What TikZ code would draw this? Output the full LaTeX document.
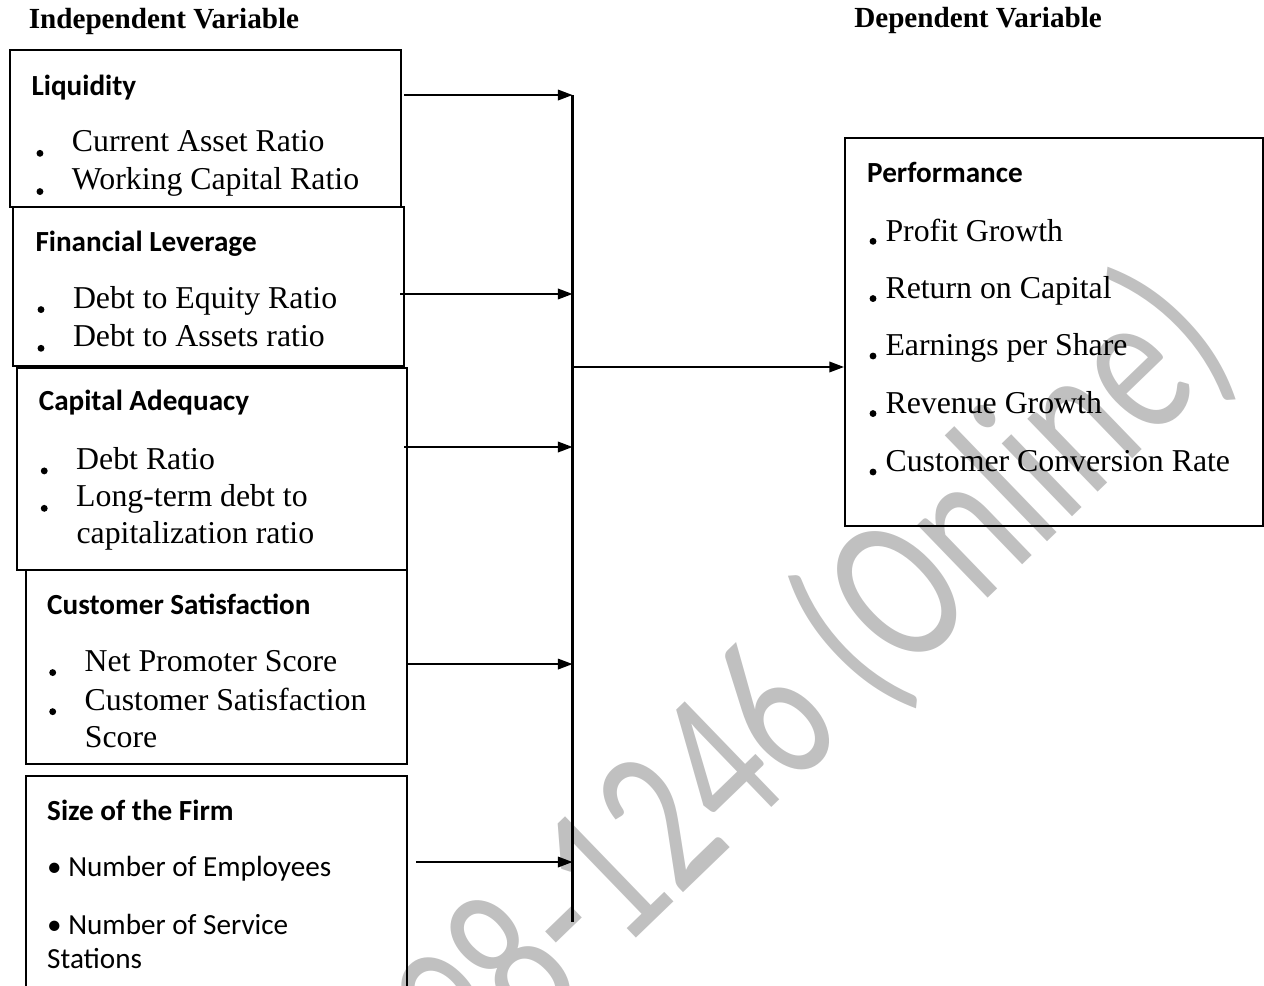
\documentclass[tikz,border=0pt]{standalone}
\usepackage{fontspec}
\setmainfont{Liberation Serif}
\newfontfamily\calibri{Carlito}
\usepackage{xcolor}
\usepackage{tikz}
\usetikzlibrary{arrows.meta}
\definecolor{WaterGray}{HTML}{C0C0C0}
\newcommand{\itemdot}{\makebox[0.47cm][l]{\tikz[baseline=0pt]\fill (0,-0.6pt) circle (1.3pt);}}
\newcommand{\perfdot}{\makebox[0.212cm][l]{\tikz[baseline=0pt]\fill (0,-0.1pt) circle (1.3pt);}}

\begin{document}
\begin{tikzpicture}[
  box/.style={rectangle, draw=black, line width=0.8pt, inner sep=0pt},
  title/.style={anchor=base west, inner sep=0pt, font=\fontsize{11}{13}\selectfont\bfseries},
  head/.style={anchor=base west, inner sep=0pt, font=\calibri\fontsize{11}{13}\selectfont\bfseries},
  entry/.style={anchor=base west, inner sep=0pt, font=\fontsize{12}{14}\selectfont},
  sansentry/.style={anchor=base west, inner sep=0pt, font=\calibri\fontsize{11}{13}\selectfont},
  arrow/.style={-{Triangle[length=5.5pt,width=4pt]}, line width=0.6pt}
]
\useasboundingbox (0,0) rectangle (16.76,-13.07);

\node[rotate=44, text=WaterGray, font=\calibri\fontsize{80}{80}\selectfont] (mark) at (10.78,-9.02) {\scalebox{0.73}[1]{98-1246 (Online)}};

\node[title] (indep) at (0.375,-0.375) {Independent Variable};
\node[title] (dep) at (11.32,-0.37) {Dependent Variable};

\node[box, minimum width=5.185cm, minimum height=2.082cm] (liquidity) at (2.725,-1.704) {};
\node[head] (liqhead) at (0.411,-1.260) {Liquidity};
\node[entry] (liq1) at (0.477,-2.012) {\itemdot Current Asset Ratio};
\node[entry] (liq2) at (0.477,-2.519) {\itemdot Working Capital Ratio};

\node[box, minimum width=5.185cm, minimum height=2.108cm] (leverage) at (2.765,-3.799) {};
\node[head] (levhead) at (0.464,-3.338) {Financial Leverage};
\node[entry] (lev1) at (0.491,-4.084) {\itemdot Debt to Equity Ratio};
\node[entry] (lev2) at (0.491,-4.597) {\itemdot Debt to Assets ratio};

\node[box, minimum width=5.171cm, minimum height=2.679cm] (adequacy) at (2.811,-6.219) {};
\node[head] (adqhead) at (0.508,-5.446) {Capital Adequacy};
\node[entry] (adq1) at (0.534,-6.223) {\itemdot Debt Ratio};
\node[entry] (adq2) at (0.534,-6.719) {\itemdot Long-term debt to};
\node[entry] (adq2b) at (1.008,-7.204) {capitalization ratio};

\node[box, minimum width=5.052cm, minimum height=2.572cm] (satisfaction) at (2.871,-8.844) {};
\node[head] (sathead) at (0.619,-8.146) {Customer Satisfaction};
\node[entry] (sat1) at (0.646,-8.897) {\itemdot Net Promoter Score};
\node[entry] (sat2) at (0.646,-9.415) {\itemdot Customer Satisfaction};
\node[entry] (sat2b) at (1.118,-9.909) {Score};

\node[box, minimum width=5.052cm, minimum height=2.970cm] (firmsize) at (2.871,-11.775) {};
\node[head] (sizhead) at (0.619,-10.873) {Size of the Firm};
\node[sansentry] (siz1) at (0.619,-11.616) {\textbullet{} Number of Employees};
\node[sansentry] (siz2) at (0.619,-12.385) {\textbullet{} Number of Service};
\node[sansentry] (siz2b) at (0.619,-12.840) {Stations};

\node[box, minimum width=5.543cm, minimum height=5.145cm] (performance) at (13.976,-4.402) {};
\node[head] (perfhead) at (11.492,-2.417) {Performance};
\node[entry] (perf1) at (11.523,-3.196) {\perfdot Profit Growth};
\node[entry] (perf2) at (11.523,-3.955) {\perfdot Return on Capital};
\node[entry] (perf3) at (11.523,-4.717) {\perfdot Earnings per Share};
\node[entry] (perf4) at (11.523,-5.480) {\perfdot Revenue Growth};
\node[entry] (perf5) at (11.523,-6.255) {\perfdot Customer Conversion Rate};

\coordinate (bustop) at (7.591,-1.260);
\coordinate (busbot) at (7.591,-12.226);
\coordinate (busout) at (7.591,-4.866);
\coordinate (liqout) at (5.357,-1.260);
\coordinate (levout) at (5.304,-3.898);
\coordinate (adqout) at (5.357,-5.927);
\coordinate (satout) at (5.410,-8.805);
\coordinate (sizout) at (5.516,-11.430);

\draw[line width=0.8pt] (bustop) -- (busbot);
\draw[arrow] (liqout) -- (liqout -| bustop);
\draw[arrow] (levout) -- (levout -| bustop);
\draw[arrow] (adqout) -- (adqout -| bustop);
\draw[arrow] (satout) -- (satout -| bustop);
\draw[arrow] (sizout) -- (sizout -| bustop);
\draw[arrow] (busout) -- (busout -| performance.west);
\end{tikzpicture}
\end{document}
